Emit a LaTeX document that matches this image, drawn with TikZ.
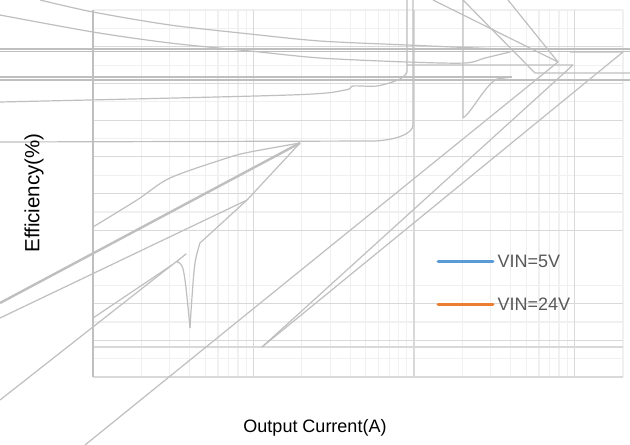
\documentclass[tikz,border=0pt]{standalone}
\usepackage{fontspec}
\setmainfont{Liberation Sans}
\definecolor{serie}{HTML}{BFBFBF}
\definecolor{gridmaj}{HTML}{D9D9D9}
\definecolor{gridmin}{HTML}{F0F0F0}
\definecolor{vinfive}{HTML}{5B9BD5}
\definecolor{vintwentyfour}{HTML}{ED7D31}
\definecolor{legtext}{HTML}{595959}
\tikzset{
  majorgrid/.style={draw=gridmaj,line width=1.2pt},
  minorgrid/.style={draw=gridmin,line width=1.2pt},
  serie/.style={draw=serie,line width=1.2pt,line join=round},
  thickserie/.style={serie,line width=2.4pt},
  legendline/.style={line width=3pt,line cap=round},
  legendtext/.style={anchor=west,inner xsep=4.5pt,inner ysep=0pt,text=legtext,font=\fontsize{18}{22}\selectfont},
  axislabel/.style={font=\fontsize{18}{22}\selectfont}
}
\begin{document}
\begin{tikzpicture}[x=1pt,y=-1pt]
  \useasboundingbox[fill=white] (0,0) rectangle (630,445);
  % minor verticals
  \draw[minorgrid](141.3,10)--(141.3,377);
  \draw[minorgrid](169.6,10)--(169.6,377);
  \draw[minorgrid](189.6,10)--(189.6,377);
  \draw[minorgrid](205.2,10)--(205.2,377);
  \draw[minorgrid](217.9,10)--(217.9,377);
  \draw[minorgrid](228.6,10)--(228.6,377);
  \draw[minorgrid](237.9,10)--(237.9,377);
  \draw[minorgrid](246.2,10)--(246.2,377);
  \draw[minorgrid](301.8,10)--(301.8,377);
  \draw[minorgrid](330.1,10)--(330.1,377);
  \draw[minorgrid](350.1,10)--(350.1,377);
  \draw[minorgrid](365.7,10)--(365.7,377);
  \draw[minorgrid](378.4,10)--(378.4,377);
  \draw[minorgrid](389.1,10)--(389.1,377);
  \draw[minorgrid](398.4,10)--(398.4,377);
  \draw[minorgrid](406.7,10)--(406.7,377);
  \draw[minorgrid](462.3,10)--(462.3,377);
  \draw[minorgrid](490.6,10)--(490.6,377);
  \draw[minorgrid](510.6,10)--(510.6,377);
  \draw[minorgrid](526.2,10)--(526.2,377);
  \draw[minorgrid](538.9,10)--(538.9,377);
  \draw[minorgrid](549.6,10)--(549.6,377);
  \draw[minorgrid](558.9,10)--(558.9,377);
  \draw[minorgrid](567.2,10)--(567.2,377);
  \draw[minorgrid](623,10)--(623,377);
  % minor horizontals
  \draw[minorgrid](93,10)--(623,10);
  \draw[minorgrid](93,28.4)--(623,28.4);
  \draw[minorgrid](93,65.1)--(623,65.1);
  \draw[minorgrid](93,101.8)--(623,101.8);
  \draw[minorgrid](93,138.5)--(623,138.5);
  \draw[minorgrid](93,175.2)--(623,175.2);
  \draw[minorgrid](93,211.9)--(623,211.9);
  \draw[minorgrid](93,285.3)--(623,285.3);
  \draw[minorgrid](93,322)--(623,322);
  \draw[minorgrid](93,358.7)--(623,358.7);
  % major lines
  \draw[majorgrid](253.5,10)--(253.5,377);
  \draw[majorgrid](414,10)--(414,377);
  \draw[majorgrid](574.5,10)--(574.5,377);
  \draw[majorgrid](93,46.7)--(623,46.7);
  \draw[majorgrid](93,83.4)--(623,83.4);
  \draw[majorgrid](93,120.1)--(623,120.1);
  \draw[majorgrid](93,156.8)--(623,156.8);
  \draw[majorgrid](93,193.5)--(623,193.5);
  \draw[majorgrid](93,230.2)--(623,230.2);
  \draw[majorgrid](93,303.6)--(623,303.6);
  \draw[majorgrid](93,340.3)--(623,340.3);
  \draw[majorgrid](93,347)--(623,347);
  \draw[majorgrid,line width=1.6pt](93,377)--(623,377);
  \draw[serie,line width=1.8pt](93,10)--(93,377);
  % series
  \draw[serie] plot[smooth] coordinates {(40,0) (93,12) (170,25) (250,34) (320,41) (407,45) (500,49)};
  \draw[serie] plot[smooth] coordinates {(0,15) (93,32) (170,43) (250,51) (320,58) (407,62) (465,63) (485,58) (510,52)};
  \draw[serie](0,49)--(630,49);
  \draw[serie](0,51.2)--(630,51.2);
  \draw[serie](262,347)--(623,52)--(570,52);
  \draw[serie](262,347)--(573,65)--(407,65);
  \draw[serie](463,0)--(535,73)--(630,73);
  \draw[serie](0,77)--(512,77);
  \draw[serie](0,80)--(630,80);
  \draw[serie] plot[smooth,tension=0.5] coordinates {(0,102) (290,95) (345,90) (353,86) (377,86) (398,80) (405,75)} -- (407,72) -- (407,0);
  \draw[serie](0,142)--(375,141) .. controls (395,140) and (413,134) .. (413,125) -- (413,0);
  \draw[serie](463,0)--(463,118) .. controls (472,112) and (485,85) .. (497,79) -- (512,77);
  \draw[thickserie](0,303)--(300,143);
  \draw[serie](0,318)--(247,200);
  \draw[serie] plot[smooth] coordinates {(93,227) (137,200) (170,178) (227,158) (250,152) (300,143)};
  \draw[serie](93,318)--(172,265);
  \draw[serie] plot[smooth,tension=0.6] coordinates {(0,400) (172,265) (177,262) (182,266) (185,280) (188,307) (190,328)};
  \draw[serie] plot[smooth,tension=0.6] coordinates {(190,328) (192,297) (195,263) (200,243)} -- (247,200) -- (300,143);
  \draw[serie](85,445)--(558,62)--(433,0);
  \draw[serie](508,0)--(558,62);
  % legend
  \coordinate (l5) at (438,261);
  \coordinate (l24) at (438,304);
  \node[legendtext] (t5) at (493,261) {VIN=5V};
  \node[legendtext] (t24) at (493,304) {VIN=24V};
  \draw[legendline,vinfive](l5)--(t5.west);
  \draw[legendline,vintwentyfour](l24)--(t24.west);
  % axis titles
  \node[axislabel] (xlabel) at (315,428) {Output Current(A)};
  \node[axislabel,rotate=90,font=\fontsize{20.5}{24}\selectfont] (ylabel) at (34,193) {Efficiency(\%)};
\end{tikzpicture}
\end{document}
